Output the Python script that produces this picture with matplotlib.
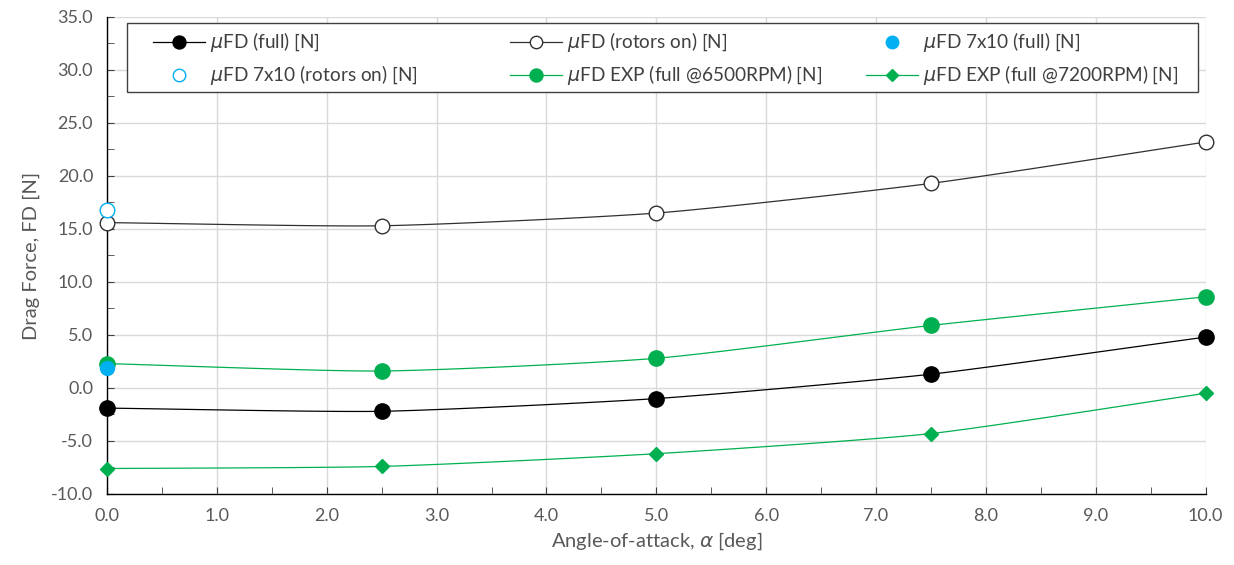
import numpy as np
import matplotlib
matplotlib.use("Agg")
import matplotlib.pyplot as plt
from matplotlib.ticker import MultipleLocator
from matplotlib.patches import Rectangle

plt.rcParams['font.family'] = ['Lato', 'DejaVu Sans']
plt.rcParams['mathtext.fontset'] = 'dejavusans'

alpha = [0.0, 2.5, 5.0, 7.5, 10.0]
fd_full = [-1.9, -2.2, -1.0, 1.3, 4.8]
fd_rotors = [15.6, 15.3, 16.5, 19.3, 23.2]
alpha_7x10 = [0.0]
fd_7x10_full = [1.9]
fd_7x10_rotors = [16.8]
fd_exp_6500 = [2.3, 1.6, 2.8, 5.9, 8.6]
fd_exp_7200 = [-7.6, -7.4, -6.2, -4.3, -0.5]

labels = [r"$\mu$FD (full) [N]", r"$\mu$FD (rotors on) [N]", r"$\mu$FD 7x10 (full) [N]",
          r"$\mu$FD 7x10 (rotors on) [N]", r"$\mu$FD EXP (full @6500RPM) [N]",
          r"$\mu$FD EXP (full @7200RPM) [N]"]

BLACK = "#000000"
GREEN = "#00B050"
BLUE = "#00B0F0"
GREY = "#595959"


def smooth(x, y, n=30, k=0.6):
    # cardinal-spline smoothing for drawing the connecting line (Excel "smoothed line")
    x = np.asarray(x, float); y = np.asarray(y, float)
    P = np.column_stack([x, y])
    m = len(P)
    T = np.zeros_like(P)
    for i in range(m):
        a = P[max(i - 1, 0)]; b = P[min(i + 1, m - 1)]
        T[i] = k * (b - a) / (2 if 0 < i < m - 1 else 1)
    t = np.linspace(0, 1, n)[:, None]
    h00 = 2 * t**3 - 3 * t**2 + 1; h10 = t**3 - 2 * t**2 + t
    h01 = -2 * t**3 + 3 * t**2; h11 = t**3 - t**2
    segs = [h00 * P[i] + h10 * T[i] + h01 * P[i + 1] + h11 * T[i + 1] for i in range(m - 1)]
    S = np.vstack(segs)
    return S[:, 0], S[:, 1]


fig = plt.figure(figsize=(12.34, 5.65), dpi=100)
ax = fig.add_axes([0.0867, 0.1257, 0.8903, 0.8443])

lw = 0.9
styles = {}
for y, col, mk, ms, mfc, key in [
        (fd_full, BLACK, 'o', 11, BLACK, 0),
        (fd_rotors, "#303030", 'o', 10.5, 'white', 1),
        (fd_exp_6500, GREEN, 'o', 11, GREEN, 4),
        (fd_exp_7200, GREEN, 'D', 7, GREEN, 5)]:
    sx, sy = smooth(alpha, y)
    ax.plot(sx, sy, color=col, lw=lw, zorder=3)
    mec = col if mfc == 'white' else mfc
    ax.plot(alpha, y, ls='none', marker=mk, ms=ms, mfc=mfc, mec=mec,
            mew=1.0, zorder=4, clip_on=False)
    styles[key] = dict(color=col, line=True, marker=mk, ms=ms * 0.85, mfc=mfc, mec=mec)

ax.plot(alpha_7x10, fd_7x10_rotors, ls='none', marker='o', ms=10.5, mfc='white', mec=BLUE,
        mew=1.0, zorder=5, clip_on=False)
ax.plot(alpha_7x10, fd_7x10_full, ls='none', marker='o', ms=10, mfc=BLUE, mec=BLUE,
        zorder=5, clip_on=False)
styles[2] = dict(color=BLUE, line=False, marker='o', ms=9, mfc=BLUE, mec=BLUE)
styles[3] = dict(color=BLUE, line=False, marker='o', ms=9, mfc='white', mec=BLUE)

ax.set_xlim(0, 10)
ax.set_ylim(-10, 35)
ax.xaxis.set_major_locator(MultipleLocator(1))
ax.xaxis.set_minor_locator(MultipleLocator(0.5))
ax.yaxis.set_major_locator(MultipleLocator(5))
ax.yaxis.set_minor_locator(MultipleLocator(2.5))
ax.xaxis.set_major_formatter(matplotlib.ticker.FormatStrFormatter('%.1f'))
ax.yaxis.set_major_formatter(matplotlib.ticker.FormatStrFormatter('%.1f'))
ax.grid(True, which='major', color='#D9D9D9', lw=1.0, zorder=0)
ax.set_axisbelow(True)

for s in ['top', 'right']:
    ax.spines[s].set_visible(False)
for s in ['left', 'bottom']:
    ax.spines[s].set_color('#000000')
    ax.spines[s].set_linewidth(1.0)
ax.tick_params(axis='both', which='both', direction='in', color='#404040', labelcolor=GREY,
               labelsize=13)
ax.tick_params(axis='both', which='major', length=5, pad=10)
ax.tick_params(axis='both', which='minor', length=5)

ax.set_xlabel(r"Angle-of-attack, $\alpha$ [deg]", color=GREY, fontsize=14.5, labelpad=5)
ax.set_ylabel("Drag Force, FD [N]", color=GREY, fontsize=14.5, labelpad=8)

# manual legend (Excel-style equal columns), positioned in pixel-derived axes fractions
X0, X1, Y0, Y1 = 107.0, 1206.0, 494.0, 17.0


def fx(px):
    return (px - X0) / (X1 - X0)


def fy(py):
    return (Y0 - py) / (Y0 - Y1)


ax.add_patch(Rectangle((fx(127), fy(92)), fx(1198) - fx(127), fy(23) - fy(92),
                       transform=ax.transAxes, facecolor='white', edgecolor='#404040',
                       lw=1.0, zorder=6, clip_on=False))
col_x = [179, 536, 892]
row_y = [42, 75]
order = [[0, 1, 2], [3, 4, 5]]
for r, row in enumerate(order):
    for c, key in enumerate(row):
        st = styles[key]
        mx, my = fx(col_x[c]), fy(row_y[r])
        if st['line']:
            ax.plot([fx(col_x[c] - 26), fx(col_x[c] + 26)], [my, my], color=st['color'],
                    lw=lw, transform=ax.transAxes, zorder=7, clip_on=False)
        ax.plot([mx], [my], ls='none', marker=st['marker'], ms=st['ms'], mfc=st['mfc'],
                mec=st['mec'], mew=1.0, transform=ax.transAxes, zorder=8, clip_on=False)
        ax.text(fx(col_x[c] + 31), my, labels[key], transform=ax.transAxes, fontsize=13.7,
                color='#404040', va='center', ha='left', zorder=8)

fig.savefig("out.png", dpi=100)
